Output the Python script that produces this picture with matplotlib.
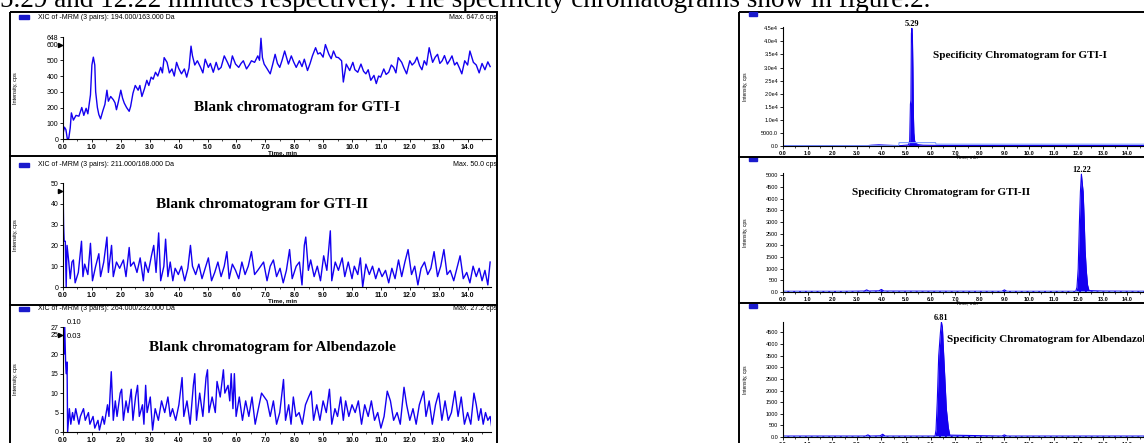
import matplotlib
matplotlib.use("Agg")
import matplotlib.pyplot as plt
from matplotlib.patches import Rectangle

W, H = 1144, 443
BLUE = "#1400f0"
LIGHT = "#7d9cff"
SERIF = "Liberation Serif"
SANS = "Liberation Sans"

# ---- blank chromatograms (left column) ----
gti1_t = [0.0, 0.05, 0.1, 0.15, 0.2, 0.25, 0.29, 0.36, 0.45, 0.55,
          0.65, 0.72, 0.8, 0.86, 0.95, 1.0, 1.05, 1.1, 1.13, 1.19,
          1.24, 1.3, 1.38, 1.45, 1.52, 1.57, 1.65, 1.74, 1.8, 1.85,
          1.92, 2.0, 2.06, 2.12, 2.2, 2.29, 2.34, 2.42, 2.5, 2.6,
          2.66, 2.73, 2.82, 2.9, 2.97, 3.05, 3.12, 3.2, 3.28, 3.38,
          3.44, 3.5, 3.6, 3.68, 3.77, 3.85, 3.93, 4.0, 4.1, 4.2,
          4.28, 4.36, 4.43, 4.48, 4.56, 4.65, 4.76, 4.84, 4.92, 5.03,
          5.1, 5.2, 5.3, 5.38, 5.47, 5.58, 5.69, 5.78, 5.86, 5.97,
          6.08, 6.16, 6.24, 6.35, 6.44, 6.52, 6.63, 6.74, 6.8, 6.85,
          6.9, 6.96, 7.05, 7.17, 7.25, 7.34, 7.42, 7.5, 7.58, 7.67,
          7.8, 7.9, 7.98, 8.07, 8.18, 8.27, 8.35, 8.46, 8.55, 8.63,
          8.74, 8.82, 8.9, 9.0, 9.08, 9.2, 9.28, 9.36, 9.45, 9.53,
          9.64, 9.7, 9.8, 9.92, 10.03, 10.1, 10.2, 10.31, 10.4, 10.48,
          10.56, 10.65, 10.76, 10.84, 10.92, 10.99, 11.1, 11.18, 11.27, 11.36,
          11.44, 11.52, 11.6, 11.72, 11.8, 11.89, 12.0, 12.08, 12.17, 12.25,
          12.34, 12.42, 12.5, 12.58, 12.67, 12.79, 12.88, 12.96, 13.04, 13.12,
          13.2, 13.3, 13.38, 13.46, 13.55, 13.63, 13.72, 13.8, 13.9, 14.0,
          14.08, 14.2, 14.3, 14.4, 14.5, 14.6, 14.7, 14.78]
gti1_v = [35, 75, 60, 0, 5, 70, 166, 120, 150, 145,
          200, 150, 195, 160, 280, 470, 520, 470, 300, 200,
          155, 128, 180, 220, 310, 240, 270, 250, 230, 186,
          240, 310, 260, 228, 200, 176, 207, 290, 340, 310,
          340, 270, 320, 373, 340, 393, 380, 424, 400, 455,
          420, 517, 487, 420, 445, 400, 487, 450, 414, 445,
          393, 450, 590, 528, 470, 497, 455, 420, 507, 455,
          480, 424, 487, 440, 455, 528, 487, 450, 528, 476,
          455, 480, 497, 445, 470, 497, 487, 528, 500, 640,
          517, 476, 450, 414, 470, 538, 480, 455, 500, 559,
          476, 528, 490, 455, 497, 460, 507, 435, 480, 528,
          580, 540, 548, 520, 600, 538, 510, 559, 520, 517,
          497, 362, 476, 435, 487, 440, 424, 476, 430, 414,
          440, 373, 404, 352, 400, 393, 445, 410, 424, 470,
          455, 420, 517, 487, 450, 414, 497, 470, 487, 520,
          466, 440, 497, 470, 580, 487, 520, 538, 480, 497,
          530, 476, 500, 528, 470, 487, 450, 414, 497, 470,
          559, 487, 470, 420, 480, 440, 490, 460]

gti2_t = [0.0, 0.02, 0.04, 0.08, 0.11, 0.14, 0.2, 0.25, 0.31, 0.36,
          0.42, 0.53, 0.64, 0.69, 0.75, 0.86, 0.95, 1.02, 1.13, 1.24,
          1.3, 1.41, 1.52, 1.57, 1.68, 1.74, 1.85, 1.96, 2.09, 2.18,
          2.29, 2.34, 2.45, 2.56, 2.67, 2.78, 2.84, 2.95, 3.06, 3.14,
          3.22, 3.31, 3.38, 3.49, 3.55, 3.63, 3.71, 3.8, 3.88, 3.99,
          4.1, 4.21, 4.32, 4.41, 4.48, 4.59, 4.7, 4.81, 4.92, 5.03,
          5.14, 5.25, 5.36, 5.47, 5.58, 5.67, 5.75, 5.86, 5.97, 6.08,
          6.19, 6.3, 6.41, 6.52, 6.63, 6.74, 6.94, 7.06, 7.17, 7.28,
          7.39, 7.51, 7.62, 7.73, 7.84, 7.93, 8.07, 8.18, 8.27, 8.35,
          8.4, 8.49, 8.57, 8.69, 8.8, 8.91, 9.02, 9.13, 9.25, 9.3,
          9.42, 9.53, 9.66, 9.75, 9.87, 10.0, 10.08, 10.2, 10.29, 10.37,
          10.48, 10.6, 10.71, 10.82, 10.93, 11.04, 11.16, 11.27, 11.38, 11.49,
          11.61, 11.72, 11.83, 11.94, 12.06, 12.17, 12.28, 12.39, 12.51, 12.62,
          12.73, 12.84, 12.96, 13.07, 13.18, 13.29, 13.4, 13.52, 13.63, 13.74,
          13.85, 13.97, 14.08, 14.19, 14.3, 14.4, 14.5, 14.6, 14.7, 14.78]
gti2_v = [50, 30, 22, 22, 0, 20, 12, 4, 12, 13,
          2, 7, 22, 5, 11, 6, 21, 3, 10, 16,
          5, 12, 24, 7, 20, 5, 12, 9, 13, 5,
          19, 10, 12, 7, 14, 3, 12, 7, 15, 20,
          7, 26, 3, 10, 23, 5, 12, 3, 9, 6,
          10, 3, 9, 20, 10, 6, 11, 4, 9, 14,
          3, 7, 12, 5, 10, 17, 4, 11, 8, 4,
          12, 6, 10, 17, 6, 8, 12, 3, 10, 13,
          5, 9, 2, 8, 18, 4, 10, 12, 1, 20,
          24, 8, 13, 5, 10, 3, 15, 8, 27, 3,
          12, 8, 14, 5, 12, 4, 10, 6, 14, 0,
          11, 6, 10, 4, 9, 5, 8, 2, 9, 4,
          13, 5, 12, 18, 6, 10, 1, 9, 12, 6,
          9, 17, 5, 10, 18, 6, 8, 3, 9, 15,
          4, 7, 2, 10, 5, 9, 3, 8, 1, 12]

alb_t = [0.0, 0.03, 0.06, 0.09, 0.11, 0.14, 0.16, 0.22, 0.27, 0.33,
         0.38, 0.44, 0.55, 0.6, 0.71, 0.77, 0.88, 0.93, 1.04, 1.1,
         1.21, 1.26, 1.37, 1.43, 1.54, 1.59, 1.67, 1.74, 1.81, 1.87,
         1.98, 2.03, 2.09, 2.18, 2.25, 2.36, 2.42, 2.51, 2.58, 2.64,
         2.75, 2.8, 2.86, 2.91, 3.02, 3.1, 3.19, 3.3, 3.41, 3.52,
         3.63, 3.71, 3.79, 3.9, 4.01, 4.12, 4.18, 4.29, 4.4, 4.51,
         4.56, 4.62, 4.73, 4.84, 4.95, 5.0, 5.05, 5.16, 5.27, 5.33,
         5.44, 5.55, 5.6, 5.71, 5.77, 5.82, 5.88, 5.93, 5.99, 6.1,
         6.21, 6.32, 6.43, 6.54, 6.65, 6.76, 6.87, 7.06, 7.17, 7.28,
         7.39, 7.5, 7.63, 7.7, 7.81, 7.89, 7.97, 8.06, 8.17, 8.28,
         8.39, 8.5, 8.59, 8.67, 8.78, 8.89, 9.0, 9.11, 9.22, 9.3,
         9.41, 9.5, 9.61, 9.7, 9.78, 9.89, 10.0, 10.11, 10.22, 10.33,
         10.44, 10.56, 10.67, 10.78, 10.89, 11.0, 11.11, 11.22, 11.33, 11.44,
         11.56, 11.67, 11.8, 11.89, 12.0, 12.11, 12.22, 12.33, 12.48, 12.56,
         12.67, 12.78, 12.89, 13.0, 13.11, 13.22, 13.33, 13.44, 13.56, 13.67,
         13.78, 13.89, 14.0, 14.11, 14.22, 14.3, 14.38, 14.46, 14.54, 14.62,
         14.7, 14.78, 14.84]
alb_v = [23, 20, 27, 18, 15, 18, 0, 6, 2, 5,
         3, 6, 2, 4, 6, 3, 5, 2, 4, 1,
         3, 0.5, 4, 2, 7, 4, 15.5, 3, 8, 4,
         10, 11, 3, 8, 5, 11, 3, 9, 12, 4,
         7, 2, 12, 5, 9, 0.5, 6, 3, 8, 5,
         9, 4, 6, 3, 7, 14, 4, 8, 2, 12,
         15, 3, 10, 4, 14, 16, 5, 9, 5, 13,
         9, 16, 10, 12, 8, 15, 6, 15, 4, 9,
         3, 8, 4, 9, 2, 6, 10, 8, 4, 8,
         2, 5, 13.5, 3, 7, 2, 9, 4, 5, 2,
         7, 9, 10.5, 3, 7, 3, 8, 5, 11, 2,
         6, 4, 9, 3, 8, 4, 7, 5, 8, 2,
         7, 4, 8, 3, 5, 1, 4, 10.5, 8, 3,
         5, 2, 11.5, 7, 3, 6, 2, 7, 10.5, 4,
         8, 2, 7, 10, 3, 8, 3, 5, 10.5, 4,
         9, 2, 5, 2, 10, 7, 3, 6, 2, 5,
         3, 4, 1]

# ---- specificity chromatograms (right column) ----
spec1_t = [0.0, 3.4, 3.6, 3.9, 4.1, 4.5, 4.8, 5.1, 5.15, 5.18, 5.2, 5.22,
           5.24, 5.26, 5.28, 5.3, 5.32, 5.35, 5.4, 5.5, 5.7, 6.5, 14.8]
spec1_v = [100, 100, 300, 450, 350, 200, 150, 400, 2000, 16000, 17500, 43000,
           45000, 42000, 30000, 12000, 5000, 2000, 1000, 500, 300, 200, 200]
spec1_base_t = [0.0, 4.7, 4.72, 6.2, 6.22, 14.8]
spec1_base_v = [100, 100, 1300, 1300, 700, 700]

spec2_t = [0.0, 2.5, 3.3, 3.4, 3.5, 3.9, 4.0, 4.1, 8.9, 9.0, 9.1, 11.9,
           11.95, 12.0, 12.05, 12.09, 12.13, 12.17, 12.2, 12.24, 12.28,
           12.33, 12.38, 12.44, 13.0, 14.8]
spec2_v = [30, 30, 40, 90, 40, 50, 110, 40, 30, 90, 30, 30,
           200, 1000, 3000, 4300, 5050, 4600, 4300, 3200, 1800,
           900, 300, 60, 40, 30]

spec3_t = [0.0, 3.35, 3.45, 3.55, 3.95, 4.05, 4.15, 6.18, 6.22, 6.27, 6.33,
           6.4, 6.44, 6.48, 6.51, 6.58, 6.64, 6.72, 6.78, 8.9, 9.0, 9.1, 14.8]
spec3_v = [40, 40, 90, 40, 50, 120, 40, 40, 300, 1500, 3500,
           4500, 4950, 4700, 4000, 2500, 1200, 400, 80, 40, 90, 40, 40]

TOP_LINE = ("5.29 and 12.22 minutes respectively. The specificity "
            "chromatograms show in figure.2.")

fig = plt.figure(figsize=(W / 100, H / 100), dpi=100)
bg = fig.add_axes([0, 0, 1, 1])
bg.set_xlim(0, W)
bg.set_ylim(H, 0)
bg.axis("off")


def px_axes(x0, y0, x1, y1):
    ax = fig.add_axes([x0 / W, 1 - y1 / H, (x1 - x0) / W, (y1 - y0) / H])
    ax.patch.set_alpha(0)
    for s in ("top", "right"):
        ax.spines[s].set_visible(False)
    for s in ("left", "bottom"):
        ax.spines[s].set_linewidth(0.8)
    return ax


def style(ax, yticks, ylabels, fs):
    ax.set_xlim(0, 14.8)
    ax.set_xticks([float(i) for i in range(15)])
    ax.set_xticklabels([f"{i}.0" for i in range(15)], fontsize=fs,
                       fontfamily=SANS, fontweight="bold")
    ax.set_xticks([i + 0.5 for i in range(15)], minor=True)
    ax.set_yticks(yticks)
    ax.set_yticklabels(ylabels, fontsize=fs, fontfamily=SANS)
    ax.tick_params(axis="both", which="major", length=2.5, width=0.6, pad=1)
    ax.tick_params(axis="x", which="minor", length=1.5, width=0.5)


# text line at the top of the page (partially cut)
fig.text(0, 1 - 7 / H, TOP_LINE, fontsize=19.5, fontfamily=SERIF,
         va="baseline", ha="left")

# panel frames
bg.add_patch(Rectangle((10, 12), 487, 440, fill=False, lw=1.4, ec="black"))
bg.plot([10, 497], [156, 156], color="black", lw=1.4)
bg.plot([10, 497], [305, 305], color="black", lw=1.4)
bg.add_patch(Rectangle((739, 12), 420, 440, fill=False, lw=1.4, ec="black"))
bg.plot([739, 1144], [157, 157], color="black", lw=1.4)
bg.plot([739, 1144], [303, 303], color="black", lw=1.4)

# left column
left_rows = [
    (37, 139, gti1_t, gti1_v, (0, 648),
     [0, 100, 200, 300, 400, 500, 600, 648],
     ["0", "100", "200", "300", "400", "500", "600", "648"],
     "XIC of -MRM (3 pairs): 194.000/163.000 Da", "Max. 647.6 cps", 17,
     "Blank chromatogram for GTI-I", (297, 107)),
    (183, 287, gti2_t, gti2_v, (0, 50),
     [0, 10, 20, 30, 40, 50], ["0", "10", "20", "30", "40", "50"],
     "XIC of -MRM (3 pairs): 211.000/168.000 Da", "Max. 50.0 cps", 165,
     "Blank chromatogram for GTI-II", (262, 204)),
    (327, 432, alb_t, alb_v, (0, 27),
     [0, 5, 10, 15, 20, 25, 27], ["0", "5", "10", "15", "20", "25", "27"],
     "XIC of -MRM (3 pairs): 264.000/232.000 Da", "Max. 27.2 cps", 309,
     "Blank chromatogram for Albendazole", (272, 347)),
]
for i, (y0, y1, t, v, ylim, yt, yl, head, mx, hy, title, (tx, ty)) in enumerate(left_rows):
    ax = px_axes(63, y0, 63 + 14.8 * 28.9, y1)
    ax.plot(t, v, color=BLUE, lw=1.0)
    ax.set_ylim(*ylim)
    style(ax, yt, yl, 5)
    bg.add_patch(Rectangle((19, hy - 2), 10, 4, color="#1a1acc"))
    bg.text(38, hy, head, fontsize=5, fontfamily=SANS, va="center")
    bg.text(497, hy, mx, fontsize=5, fontfamily=SANS, va="center", ha="right")
    bg.text(15, (y0 + y1) / 2, "Intensity, cps", fontsize=4, rotation=90,
            fontfamily=SANS, va="center", ha="center")
    bg.text(tx, ty, title, fontsize=11, fontfamily=SERIF,
            fontweight="bold", ha="center", va="center")
    if i < 2:
        bg.text(282, y1 + 14, "Time, min", fontsize=4.5, fontfamily=SANS,
                fontweight="bold", ha="center", va="center")
    bg.plot(60, y0 + 8, marker=">", ms=3, color="black")

bg.text(67, 323, "0.10", fontsize=5.5, fontfamily=SANS, va="center")
bg.text(67, 337, "0.03", fontsize=5.5, fontfamily=SANS, va="center")

# right column
right_rows = [
    (27, 146, spec1_t, spec1_v, (0, 45500),
     [0, 5000, 10000, 15000, 20000, 25000, 30000, 35000, 40000, 45000],
     ["0.0", "5000.0", "1.0e4", "1.5e4", "2.0e4", "2.5e4", "3.0e4",
      "3.5e4", "4.0e4", "4.5e4"],
     12, "5.29", "Specificity Chromatogram for GTI-I", (933, 55)),
    (173, 292, spec2_t, spec2_v, (0, 5100),
     list(range(0, 5001, 500)),
     ["0.0"] + [str(k) for k in range(500, 5001, 500)],
     157, "12.22", "Specificity Chromatogram for GTI-II", (852, 192)),
    (322, 437, spec3_t, spec3_v, (0, 4950),
     list(range(0, 4501, 500)),
     ["0.0"] + [str(k) for k in range(500, 4501, 500)],
     304, "6.81", "Specificity Chromatogram for Albendazole", (947, 340)),
]
for idx, (y0, y1, t, v, ylim, yt, yl, hy, pk, title, (tx, ty)) in enumerate(right_rows):
    ax = px_axes(783, y0, 783 + 14.8 * 24.6, y1)
    ax.fill_between(t, v, 0, color=BLUE, lw=0)
    ax.plot(t, v, color=BLUE, lw=0.8)
    if idx == 0:
        ax.plot(spec1_base_t, spec1_base_v, color=LIGHT, lw=0.8)
    else:
        ax.axhline(ylim[1] * 0.006, color=LIGHT, lw=0.7, ls=(0, (4, 2)))
    ax.set_ylim(*ylim)
    style(ax, yt, yl, 4)
    top = max(v)
    ax.text(t[v.index(top)], top, pk, fontsize=6, fontfamily=SERIF,
            fontweight="bold", ha="center", va="bottom", clip_on=False)
    bg.add_patch(Rectangle((749, hy), 8, 4, color="#1a1acc"))
    bg.text(746, (y0 + y1) / 2, "Intensity, cps", fontsize=3.5, rotation=90,
            fontfamily=SANS, va="center", ha="center")
    bg.text(tx, ty, title, fontsize=8, fontfamily=SERIF, fontweight="bold",
            ha="left", va="center")
    if idx < 2:
        bg.text(967, y1 + 10.5, "Time, min", fontsize=3.5, fontfamily=SANS,
                ha="center", va="center")

fig.savefig("out.png", dpi=100)
